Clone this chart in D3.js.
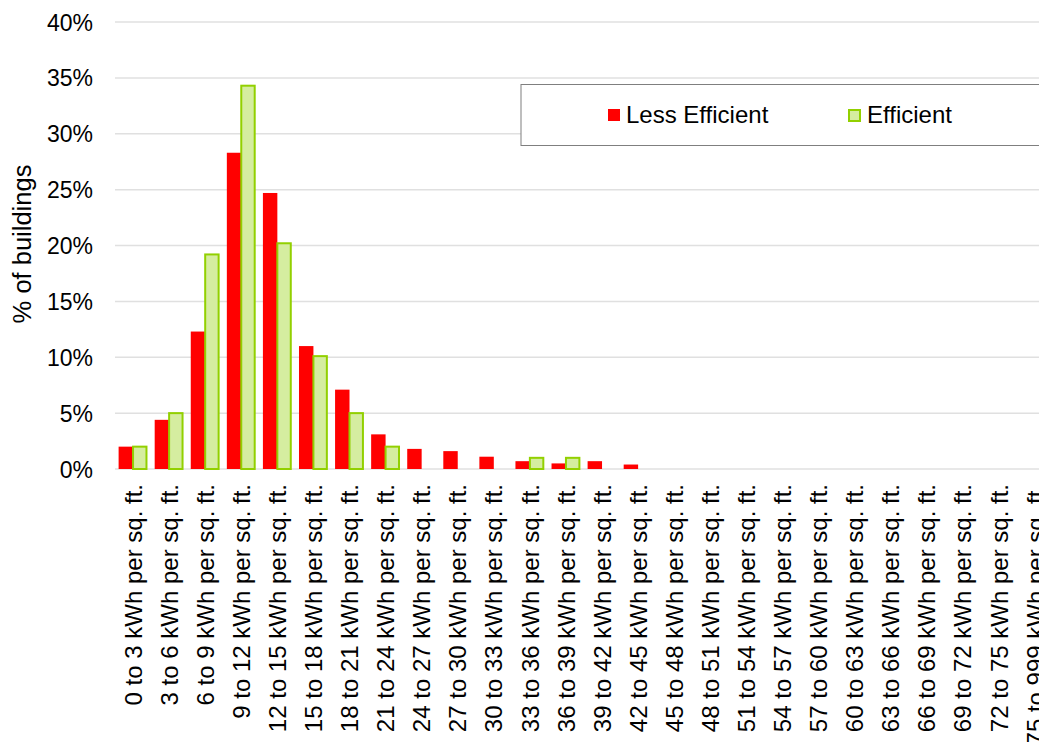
<!DOCTYPE html>
<html>
<head>
<meta charset="utf-8">
<script src="https://cdn.jsdelivr.net/npm/d3@7"></script>
<style>
  html, body { margin: 0; padding: 0; background: #fff; overflow: hidden; }
  svg { display: block; font-family: "Liberation Sans", Arial, sans-serif; }
</style>
</head>
<body>
<svg id="chart" width="1039" height="742"></svg>
<script>
// Energy-use intensity bins (kWh per sq. ft.)
const categories = [
  "0 to 3", "3 to 6", "6 to 9", "9 to 12", "12 to 15", "15 to 18", "18 to 21",
  "21 to 24", "24 to 27", "27 to 30", "30 to 33", "33 to 36", "36 to 39",
  "39 to 42", "42 to 45", "45 to 48", "48 to 51", "51 to 54", "54 to 57",
  "57 to 60", "60 to 63", "63 to 66", "66 to 69", "69 to 72", "72 to 75", "75 to 999"
];

// Share of buildings in each bin (%)
const lessEfficient = [2.0, 4.4, 12.3, 28.3, 24.7, 11.0, 7.1, 3.1, 1.8, 1.6, 1.1, 0.7, 0.5, 0.7, 0.4, 0, 0, 0, 0, 0, 0, 0, 0, 0, 0, 0];
const efficient     = [2.0, 5.0, 19.2, 34.3, 20.2, 10.1, 5.0, 2.0, 0, 0, 0, 1.0, 1.0, 0, 0, 0, 0, 0, 0, 0, 0, 0, 0, 0, 0, 0];

const yTicks = [0, 5, 10, 15, 20, 25, 30, 35, 40];
const seriesNames = ["Less Efficient", "Efficient"];

const svg = d3.select("#chart");
const W = 1039;

const plot = { left: 115, right: 1053, top: 22, bottom: 469 };

const x = d3.scaleBand()
  .domain(categories)
  .range([plot.left, plot.right])
  .paddingInner(0.2)
  .paddingOuter(0.1);

// Clustered bars: a gap of half a bar width between groups
const step = x.step();
const barW = step / 2.5;
const groupOffset = (step - 2 * barW) / 2;

const y = d3.scaleLinear().domain([0, 40]).range([plot.bottom, plot.top]);

// Gridlines
svg.append("g")
  .selectAll("line")
  .data(yTicks)
  .join("line")
  .attr("x1", plot.left)
  .attr("x2", W)
  .attr("y1", d => y(d))
  .attr("y2", d => y(d))
  .attr("stroke", "#e0e0e0")
  .attr("stroke-width", 1.5);

// Y axis labels
const yAxis = d3.axisLeft(y)
  .tickValues(yTicks)
  .tickFormat(d => d + "%")
  .tickSize(0)
  .tickPadding(0);

svg.append("g")
  .attr("transform", `translate(93,0)`)
  .call(yAxis)
  .call(g => g.select(".domain").remove())
  .call(g => g.selectAll("text")
    .attr("font-family", "'Liberation Sans', Arial, sans-serif")
    .attr("font-size", 23)
    .attr("fill", "#000")
    .attr("dy", "0.35em"));

// Y axis title
svg.append("text")
  .attr("transform", `translate(31,244) rotate(-90)`)
  .attr("text-anchor", "middle")
  .attr("font-size", 25.5)
  .attr("fill", "#000")
  .text("% of buildings");

const bandStart = c => x(c) - x.step() * x.paddingInner() / 2;

// Less Efficient bars
svg.append("g")
  .selectAll("rect")
  .data(categories.map((c, i) => ({ c, v: lessEfficient[i] })))
  .join("rect")
  .attr("x", d => bandStart(d.c) + groupOffset)
  .attr("width", barW)
  .attr("y", d => y(d.v))
  .attr("height", d => y(0) - y(d.v))
  .attr("fill", "#ff0000");

// Efficient bars
svg.append("g")
  .selectAll("rect")
  .data(categories.map((c, i) => ({ c, v: efficient[i] })))
  .join("rect")
  .attr("x", d => bandStart(d.c) + groupOffset + barW)
  .attr("width", barW - 1)
  .attr("y", d => y(d.v))
  .attr("height", d => Math.max(0, y(0) - y(d.v)))
  .attr("fill", "#d5eda0")
  .attr("stroke", d => d.v > 0 ? "#92d000" : "none")
  .attr("stroke-width", 2);

// X axis category labels (rotated)
svg.append("g")
  .selectAll("text")
  .data(categories)
  .join("text")
  .attr("transform", c => `translate(${bandStart(c) + step / 2},484) rotate(-90)`)
  .attr("text-anchor", "end")
  .attr("dy", "0.36em")
  .attr("font-size", 24)
  .attr("fill", "#000")
  .text(c => c + " kWh per sq. ft.");

// Legend
const legend = svg.append("g");
legend.append("rect")
  .attr("x", 521)
  .attr("y", 84.5)
  .attr("width", 560)
  .attr("height", 61)
  .attr("fill", "#fff")
  .attr("stroke", "#7f7f7f")
  .attr("stroke-width", 1);

const legendItems = [
  { name: seriesNames[0], x: 608, tx: 626, fill: "#ff0000", stroke: "none" },
  { name: seriesNames[1], x: 849, tx: 867, fill: "#d5eda0", stroke: "#92d000" }
];
const li = legend.selectAll("g.item").data(legendItems).join("g").attr("class", "item");
li.append("rect")
  .attr("x", d => d.x)
  .attr("y", d => d.stroke === "none" ? 109 : 110)
  .attr("width", d => d.stroke === "none" ? 12 : 11)
  .attr("height", d => d.stroke === "none" ? 12 : 11)
  .attr("fill", d => d.fill)
  .attr("stroke", d => d.stroke)
  .attr("stroke-width", 2);
li.append("text")
  .attr("x", d => d.tx)
  .attr("y", 123)
  .attr("font-size", 24)
  .attr("fill", "#000")
  .text(d => d.name);
</script>
</body>
</html>
